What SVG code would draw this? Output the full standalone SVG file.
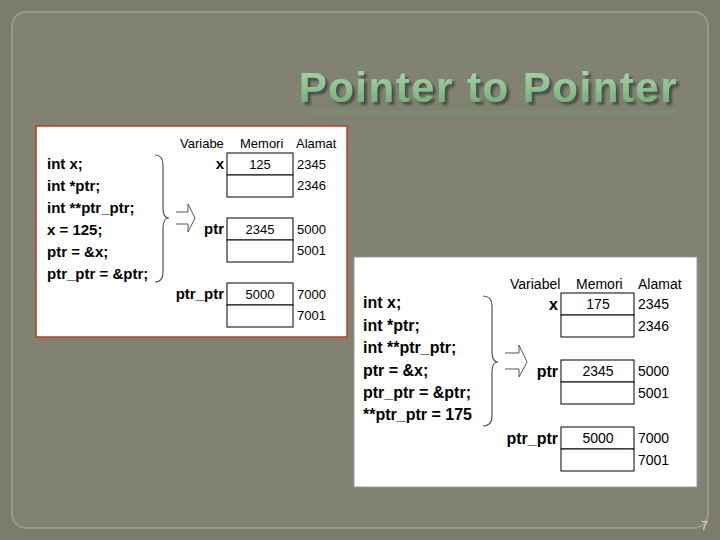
<svg xmlns="http://www.w3.org/2000/svg" width="720" height="540" viewBox="0 0 720 540">
<style>
.code{font-family:"Liberation Sans",Arial,sans-serif;font-weight:bold;fill:#000}
.t{font-family:"Liberation Sans",Arial,sans-serif;fill:#000}
.cell{fill:#fff;stroke:#000;stroke-width:1}
.br{fill:none;stroke:#555;stroke-width:1.2}
</style>
<defs><linearGradient id="tg" x1="0" y1="0" x2="0" y2="1"><stop offset="0" stop-color="#b0dcb0"/><stop offset="1" stop-color="#6aa870"/></linearGradient>
<filter id="sh" x="-5%" y="-20%" width="110%" height="140%"><feDropShadow dx="3" dy="3" stdDeviation="0.8" flood-color="#4a4a42" flood-opacity="0.9"/></filter></defs>
<rect width="720" height="540" fill="#7c7c6c"/>
<rect x="12" y="12" width="696" height="516" rx="14" fill="#828272" stroke="#9a9a8a" stroke-width="2"/>
<text x="678" y="102" text-anchor="end" font-family="'Liberation Sans',Arial,sans-serif" font-weight="bold" font-size="42" letter-spacing="1.5" fill="url(#tg)" filter="url(#sh)">Pointer to Pointer</text>
<line x1="305" y1="112" x2="678" y2="112" stroke="#6f9a72" stroke-width="1.5"/>
<g id="panel1">
<rect x="36" y="126" width="311" height="211" fill="#fff" stroke="#c0392b" stroke-width="1.5"/>
<g class="code" font-size="15">
<text x="47" y="169">int x;</text><text x="47" y="191">int *ptr;</text><text x="47" y="213">int **ptr_ptr;</text>
<text x="47" y="235">x = 125;</text><text x="47" y="257">ptr = &amp;x;</text><text x="47" y="279">ptr_ptr = &amp;ptr;</text>
</g>
<path class="br" d="M155,155 Q163,155 163,165 L163,208 Q163,218 169,218 Q163,218 163,228 L163,272 Q163,282 155,282"/>
<path d="M176,212 L188,212 L188,204 L195,218 L188,232 L188,224 L176,224" fill="#fff" stroke="#555"/>
<g class="t" font-size="13"><text x="180" y="148">Variabe</text><text x="240" y="148">Memori</text><text x="296" y="148">Alamat</text></g>
<rect class="cell" x="227" y="153" width="66" height="22"/><rect class="cell" x="227" y="175" width="66" height="22"/>
<rect class="cell" x="227" y="218" width="66" height="22"/><rect class="cell" x="227" y="240" width="66" height="22"/>
<rect class="cell" x="227" y="283" width="66" height="22"/><rect class="cell" x="227" y="305" width="66" height="22"/>
<g class="code" font-size="15" text-anchor="end"><text x="224" y="169">x</text><text x="224" y="234">ptr</text><text x="224" y="299">ptr_ptr</text></g>
<g class="t" font-size="13" text-anchor="middle"><text x="260" y="169">125</text><text x="260" y="234">2345</text><text x="260" y="299">5000</text></g>
<g class="t" font-size="13"><text x="297" y="169">2345</text><text x="297" y="190">2346</text><text x="297" y="234">5000</text><text x="297" y="255">5001</text><text x="297" y="299">7000</text><text x="297" y="320">7001</text></g>
</g>
<g id="panel2">
<rect x="354" y="257" width="343" height="230" fill="#fff" stroke="#999" stroke-width="1"/>
<g class="code" font-size="16">
<text x="363" y="308">int x;</text><text x="363" y="331">int *ptr;</text><text x="363" y="353">int **ptr_ptr;</text>
<text x="363" y="376">ptr = &amp;x;</text><text x="363" y="398">ptr_ptr = &amp;ptr;</text><text x="363" y="420">**ptr_ptr = 175</text>
</g>
<path class="br" d="M483,296 Q492,296 492,306 L492,352 Q492,362 498,362 Q492,362 492,372 L492,416 Q492,426 483,426"/>
<path d="M505,353 L519,353 L519,345 L527,362 L519,377 L519,369 L505,369" fill="#fff" stroke="#555"/>
<g class="t" font-size="14"><text x="510" y="289">Variabel</text><text x="576" y="289">Memori</text><text x="638" y="289">Alamat</text></g>
<rect class="cell" x="561" y="293" width="73" height="22"/><rect class="cell" x="561" y="315" width="73" height="22"/>
<rect class="cell" x="561" y="360" width="73" height="22"/><rect class="cell" x="561" y="382" width="73" height="22"/>
<rect class="cell" x="561" y="427" width="73" height="22"/><rect class="cell" x="561" y="449" width="73" height="22"/>
<g class="code" font-size="16" text-anchor="end"><text x="558" y="310">x</text><text x="558" y="377">ptr</text><text x="558" y="444">ptr_ptr</text></g>
<g class="t" font-size="14" text-anchor="middle"><text x="598" y="309">175</text><text x="598" y="376">2345</text><text x="598" y="443">5000</text></g>
<g class="t" font-size="14"><text x="638" y="309">2345</text><text x="638" y="331">2346</text><text x="638" y="376">5000</text><text x="638" y="398">5001</text><text x="638" y="443">7000</text><text x="638" y="465">7001</text></g>
</g>
<text x="708" y="530" text-anchor="end" font-family="'Liberation Sans',Arial,sans-serif" font-size="13" fill="#d8d8d0">7</text>
</svg>
